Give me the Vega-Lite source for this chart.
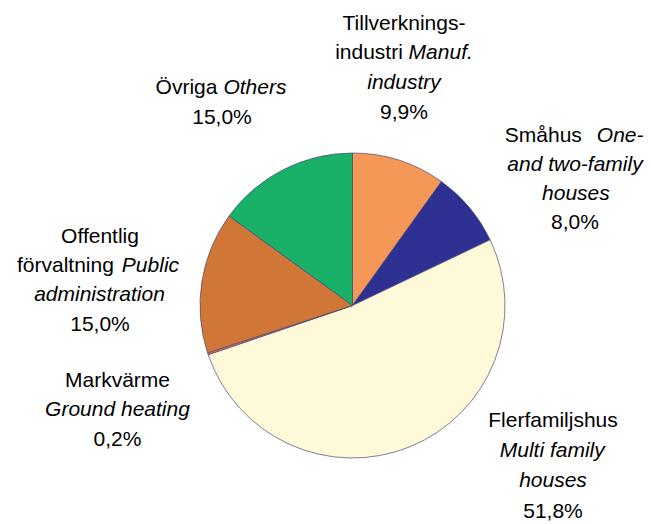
{
  "$schema": "https://vega.github.io/schema/vega-lite/v6.json",
  "width": 597,
  "height": 437,
  "autosize": {"type": "none"},
  "padding": {"left": 54, "top": 87, "right": 0, "bottom": 0},
  "background": "white",
  "config": {"view": {"stroke": null}, "text": {"font": "Liberation Sans", "fontSize": 21, "color": "#000000"}},
  "datasets": {
    "slices": [
      {"i": 1, "sector": "Tillverkningsindustri", "share": 9.9},
      {"i": 2, "sector": "Småhus", "share": 8.0},
      {"i": 3, "sector": "Flerfamiljshus", "share": 51.8},
      {"i": 4, "sector": "Markvärme", "share": 0.2},
      {"i": 5, "sector": "Offentlig förvaltning", "share": 15.0},
      {"i": 6, "sector": "Övriga", "share": 15.0}
    ],
    "labels": [
      {"text": "Tillverknings-", "lang": "sv", "x": 33.77, "y": 180.98},
      {"text": "industri", "lang": "sv", "x": 10.82, "y": 161.44},
      {"text": "Manuf.", "lang": "en", "x": 57.84, "y": 161.44},
      {"text": "industry", "lang": "en", "x": 33.77, "y": 141.9},
      {"text": "9,9%", "lang": "pct", "x": 33.77, "y": 122.36},

      {"text": "Småhus", "lang": "sv", "x": 125.15, "y": 107.21},
      {"text": "One-", "lang": "en", "x": 175.54, "y": 107.21},
      {"text": "and two-family", "lang": "en", "x": 145.9, "y": 88.2},
      {"text": "houses", "lang": "en", "x": 146.5, "y": 69.18},
      {"text": "8,0%", "lang": "pct", "x": 145.9, "y": 50.16},

      {"text": "Flerfamiljshus", "lang": "sv", "x": 131.48, "y": -80.0},
      {"text": "Multi family", "lang": "en", "x": 131.0, "y": -99.67},
      {"text": "houses", "lang": "en", "x": 131.48, "y": -119.34},
      {"text": "51,8%", "lang": "pct", "x": 131.48, "y": -139.02},

      {"text": "Markvärme", "lang": "sv", "x": -154.1, "y": -53.25},
      {"text": "Ground heating", "lang": "en", "x": -154.1, "y": -72.46},
      {"text": "0,2%", "lang": "pct", "x": -154.1, "y": -92.13},

      {"text": "Offentlig", "lang": "sv", "x": -165.57, "y": 41.18},
      {"text": "förvaltning", "lang": "sv", "x": -188.26, "y": 21.77},
      {"text": "Public", "lang": "en", "x": -132.49, "y": 21.77},
      {"text": "administration", "lang": "en", "x": -165.9, "y": 2.95},
      {"text": "15,0%", "lang": "pct", "x": -165.57, "y": -16.52},

      {"text": "Övriga", "lang": "sv", "x": -108.85, "y": 138.49},
      {"text": "Others", "lang": "en", "x": -64.0, "y": 138.49},
      {"text": "15,0%", "lang": "pct", "x": -85.57, "y": 119.02}
    ]
  },
  "layer": [
    {
      "data": {"name": "slices"},
      "mark": {"type": "arc", "radius": 152.5, "stroke": "#4a4878", "strokeWidth": 0.7},
      "encoding": {
        "theta": {"field": "share", "type": "quantitative", "stack": true},
        "order": {"field": "i", "type": "quantitative"},
        "color": {
          "field": "sector",
          "type": "nominal",
          "scale": {
            "domain": ["Tillverkningsindustri", "Småhus", "Flerfamiljshus", "Markvärme", "Offentlig förvaltning", "Övriga"],
            "range": ["#f49757", "#2e3192", "#fef9d8", "#f26c5a", "#d07636", "#19b068"]
          },
          "legend": null
        }
      }
    },
    {
      "data": {"name": "labels"},
      "transform": [{"filter": "datum.lang !== 'en'"}],
      "mark": {"type": "text", "align": "center", "baseline": "alphabetic", "fontStyle": "normal"},
      "encoding": {
        "x": {"field": "x", "type": "quantitative", "scale": {"domain": [-195.74, 195.74], "nice": false, "zero": false}, "axis": null},
        "y": {"field": "y", "type": "quantitative", "scale": {"domain": [-143.28, 143.28], "nice": false, "zero": false}, "axis": null},
        "text": {"field": "text"}
      }
    },
    {
      "data": {"name": "labels"},
      "transform": [{"filter": "datum.lang === 'en'"}],
      "mark": {"type": "text", "align": "center", "baseline": "alphabetic", "fontStyle": "italic"},
      "encoding": {
        "x": {"field": "x", "type": "quantitative", "scale": {"domain": [-195.74, 195.74], "nice": false, "zero": false}, "axis": null},
        "y": {"field": "y", "type": "quantitative", "scale": {"domain": [-143.28, 143.28], "nice": false, "zero": false}, "axis": null},
        "text": {"field": "text"}
      }
    }
  ]
}
